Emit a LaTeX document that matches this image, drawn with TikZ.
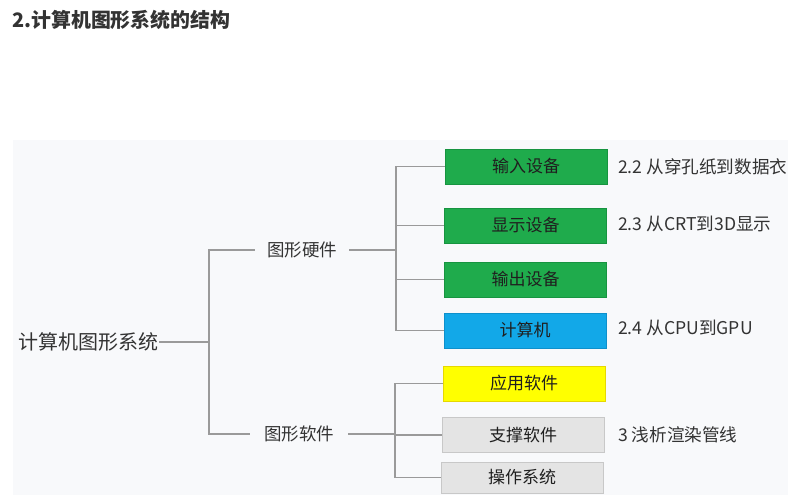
\documentclass[tikz,border=0pt]{standalone}
\usepackage{fontspec}
\setmainfont{Noto Sans CJK SC}
\definecolor{bgc}{HTML}{F8F9FB}
\definecolor{linec}{HTML}{9A9A9A}
\definecolor{txtc}{HTML}{333333}
\definecolor{greenc}{HTML}{1FAB4C}
\definecolor{greenb}{HTML}{179440}
\definecolor{bluec}{HTML}{12A8E8}
\definecolor{blueb}{HTML}{0E90CC}
\definecolor{yellowc}{HTML}{FFFF00}
\definecolor{yellowb}{HTML}{E6D800}
\definecolor{greyc}{HTML}{E4E4E4}
\definecolor{greyb}{HTML}{C8C8C8}
\tikzset{
  conn/.style={draw=linec, line width=1.2pt},
  lvltext/.style={text=txtc, inner xsep=8pt, inner ysep=2pt},
  itembox/.style={minimum width=162pt, minimum height=35pt, inner sep=0pt, text=black!88, font=\fontsize{17}{19}\selectfont, line width=0.8pt},
  greenbox/.style={itembox, fill=greenc, draw=greenb},
  bluebox/.style={itembox, fill=bluec, draw=blueb},
  yellowbox/.style={itembox, fill=yellowc, draw=yellowb},
  greybox/.style={itembox, fill=greyc, draw=greyb},
  notetext/.style={anchor=west, inner sep=0pt, text=txtc, font=\fontsize{17.6}{19}\selectfont},
}
\begin{document}
\begin{tikzpicture}[x=1pt, y=-1pt]
\useasboundingbox (0,0) rectangle (797,503);
\fill[white] (0,0) rectangle (797,503);
\fill[bgc] (13,140) rectangle (788,495);

\node[anchor=west, inner sep=0pt, text=txtc, font=\fontsize{19.9}{22}\selectfont\bfseries] (title) at (12,20) {2.计算机图形系统的结构};

\node[lvltext, inner xsep=1pt, font=\fontsize{20}{22}\selectfont] (root) at (88,342) {计算机图形系统};
\node[lvltext, font=\fontsize{17.5}{20}\selectfont, inner xsep=0pt, minimum width=94pt] (hw) at (302,250) {图形硬件};
\node[lvltext, font=\fontsize{17.5}{20}\selectfont, inner xsep=0pt, minimum width=98pt] (sw) at (299,434) {图形软件};

\node[greenbox] (b1) at (526,166.5) {输入设备};
\node[greenbox] (b2) at (525.5,225.5) {显示设备};
\node[greenbox] (b3) at (525.5,279.5) {输出设备};
\node[bluebox] (b4) at (525,330.5) {计算机};
\node[yellowbox] (b5) at (524,383.5) {应用软件};
\node[greybox] (b6) at (523,435) {支撑软件};
\node[greybox, minimum height=31pt] (b7) at (522,477.5) {操作系统};

\node[notetext] (n1) at (618,167) {2.2 从穿孔纸到数据衣};
\node[notetext] (n2) at (618,224) {2.3 从CRT到3D显示};
\node[notetext] (n3) at (618,328) {2.4 从CPU到GPU};
\node[notetext] (n4) at (618,435) {3 浅析渲染管线};

\coordinate (rj) at (209,342);
\coordinate (hj) at (396,250);
\coordinate (sj) at (395,434);

\draw[conn] (root.east) -- (rj);
\draw[conn] (hw.west) -| (rj) |- (sw.west);
\draw[conn] (hw.east) -- (hj);
\draw[conn] (b1.west) -| (hj) |- (b4.west);
\draw[conn] (hj |- b2.west) -- (b2.west);
\draw[conn] (hj |- b3.west) -- (b3.west);
\draw[conn] (sw.east) -- (sj);
\draw[conn] (b5.west) -| (sj) |- (b7.west);
\draw[conn] (sj |- b6.west) -- (b6.west);
\end{tikzpicture}
\end{document}
